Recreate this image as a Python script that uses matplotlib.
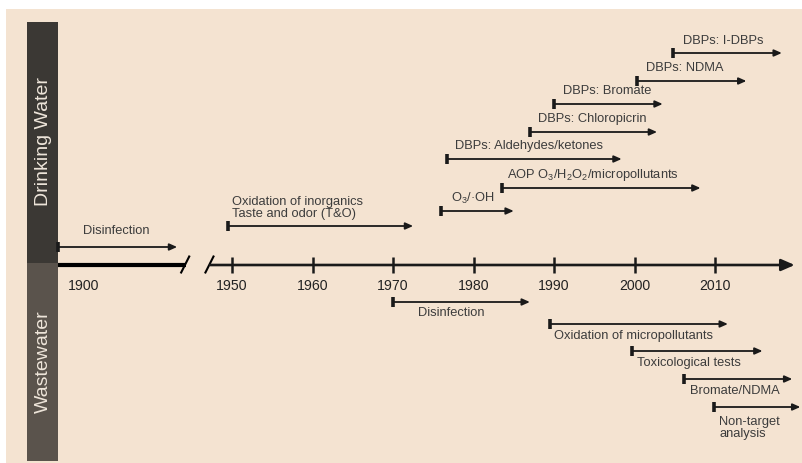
import matplotlib
matplotlib.use("Agg")
import matplotlib.pyplot as plt
from matplotlib.patches import Rectangle

plt.rcParams['font.family'] = ['Liberation Sans', 'DejaVu Sans']
plt.rcParams['mathtext.fontset'] = 'custom'
plt.rcParams['mathtext.rm'] = 'Liberation Sans'
plt.rcParams['mathtext.it'] = 'Liberation Sans'

# ---------------- data ----------------
decade_ticks = [1950, 1960, 1970, 1980, 1990, 2000, 2010]
early_tick = 1900

early_label = "Disinfection"
early_start = 1900
early_end = 1914.8
early_lane = 18

dw_labels = ["Oxidation of inorganics\nTaste and odor (T&O)",
             "O$_3$/·OH",
             "AOP O$_3$/H$_2$O$_2$/micropollutants",
             "DBPs: Aldehydes/ketones",
             "DBPs: Chloropicrin",
             "DBPs: Bromate",
             "DBPs: NDMA",
             "DBPs: I-DBPs"]
dw_start = [1949.5, 1976.0, 1983.5, 1976.7, 1987.0, 1990.0, 2000.3, 2004.8]
dw_end = [1972.5, 1985.0, 2008.2, 1998.4, 2002.8, 2003.5, 2013.9, 2018.3]
dw_lane = [39, 54, 77, 106, 133, 161, 184, 212]

ww_labels = ["Disinfection",
             "Oxidation of micropollutants",
             "Toxicological tests",
             "Bromate/NDMA",
             "Non-target\nanalysis"]
ww_start = [1970.0, 1989.5, 1999.7, 2006.2, 2009.9]
ww_end = [1987.0, 2011.6, 2015.9, 2019.6, 2020.6]
ww_lane = [-37, -59, -86, -114, -142]

# label placement (pixels relative to arrow start)
early_off = (25, 16)
dw_off = [(4, 17.5), (10, 13), (5, 13), (8, 13), (8, 13), (9, 13), (9, 13), (10, 12)]
ww_off = [(25, -11.5), (4, -12), (5, -12), (6, -11.5), (5, -20.5)]

# ---------------- styling ----------------
W, H = 802, 463
BEIGE = '#f4e3d1'
DARK = '#3b3834'
MID = '#5a534c'
LINE = '#1a1a1a'
TXT = '#3c3c3c'

fig = plt.figure(figsize=(W / 100, H / 100), dpi=100)
fig.patch.set_facecolor('white')


def px_rect(x0, ytop, x1, ybot, color):
    fig.add_artist(Rectangle((x0 / W, 1 - ybot / H), (x1 - x0) / W, (ybot - ytop) / H,
                             transform=fig.transFigure, facecolor=color,
                             edgecolor='none', zorder=0))


px_rect(6, 9, W, H, BEIGE)
px_rect(27, 22, 58, 263, DARK)
px_rect(27, 263, 58, 461, MID)
fig.text(43 / W, 1 - 142 / H, "Drinking Water", rotation=90, ha='center', va='center',
         color='#eee5da', fontsize=14, zorder=3)
fig.text(43 / W, 1 - 362 / H, "Wastewater", rotation=90, ha='center', va='center',
         color='#eee5da', fontsize=14, zorder=3)

PXY = 8.05  # pixels per year
YLIM = (-198, 265)

# left (early) axes: pixels 58..195
axL = fig.add_axes([58 / W, 0, 137 / W, 1])
axL.set_xlim(1900, 1900 + 137 / PXY)
# right axes: pixels 200..802
axR = fig.add_axes([200 / W, 0, 602 / W, 1])
axR.set_xlim(1950 + (200 - 232) / PXY, 1950 + (802 - 232) / PXY)
for ax in (axL, axR):
    ax.set_ylim(*YLIM)
    ax.axis('off')
    ax.patch.set_alpha(0)


def event(ax, s, e, y, label, off, lw=1.3):
    ax.annotate('', xy=(e, y), xytext=(s, y),
                arrowprops=dict(arrowstyle='-|>,head_length=0.45,head_width=0.2',
                                mutation_scale=10, lw=lw, color=LINE,
                                shrinkA=0, shrinkB=0), annotation_clip=False)
    ax.plot([s], [y], marker='|', ms=7, mew=2.6, color=LINE, clip_on=False)
    ax.annotate(label, xy=(s, y), xytext=off, textcoords='offset pixels',
                ha='left', va='center', fontsize=9.3, color=TXT,
                linespacing=1.0, annotation_clip=False)


# main timeline
axL.plot([1900, 1915.9], [0, 0], color='black', lw=3.0, solid_capstyle='butt')
axL.annotate(str(early_tick), xy=(early_tick, 0), xytext=(10, -21),
             textcoords='offset pixels', ha='left', va='center', fontsize=10.2,
             color='#222222')

# break marks
for ax, xc in ((axL, 1915.8), (axR, 1947.2)):
    ax.plot([xc - 0.5, xc + 0.5], [-7.5, 8.5], color='black', lw=1.5, clip_on=False)

axR.annotate('', xy=(2019.9, 0), xytext=(1947.3, 0),
             arrowprops=dict(arrowstyle='-|>,head_length=0.8,head_width=0.35',
                             mutation_scale=10, lw=1.9, color=LINE,
                             shrinkA=0, shrinkB=0), annotation_clip=False)
for t in decade_ticks:
    axR.plot([t, t], [-8, 8], color=LINE, lw=1.8, solid_capstyle='butt')
    axR.annotate(str(t), xy=(t, 0), xytext=(0, -21), textcoords='offset pixels',
                 ha='center', va='center', fontsize=10.2, color='#222222')

# events
event(axL, early_start, early_end, early_lane, early_label, early_off)
for lab, s, e, y, off in zip(dw_labels, dw_start, dw_end, dw_lane, dw_off):
    event(axR, s, e, y, lab, off)
for lab, s, e, y, off in zip(ww_labels, ww_start, ww_end, ww_lane, ww_off):
    event(axR, s, e, y, lab, off)

fig.savefig('out.png', dpi=100, facecolor=fig.get_facecolor())
